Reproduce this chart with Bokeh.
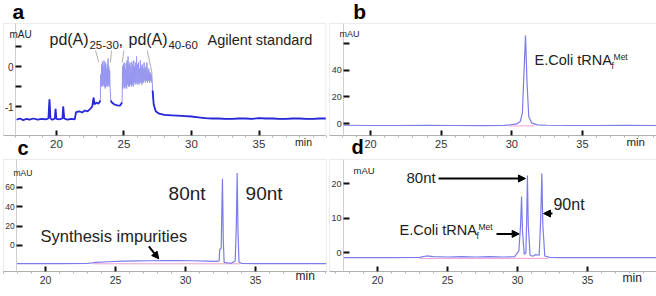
import numpy as np
from bokeh.plotting import figure
from bokeh.layouts import gridplot
from bokeh.models import Label, Arrow, NormalHead, FixedTicker, LinearAxis, Range1d, BoxAnnotation
from bokeh.embed import file_html
from bokeh.resources import INLINE

FONT = "Liberation Sans"

# ---------------- data ----------------
x_ticks = [20, 25, 30, 35]
x_minor_ticks = [17, 18, 19, 21, 22, 23, 24, 26, 27, 28, 29, 31, 32, 33, 34, 36, 37, 38, 39, 40]

# panel a: Agilent pd(A) standard (mAU vs min)
a_time = [17.05, 17.3, 17.5, 17.8, 18.0, 18.3, 18.6, 18.9, 19.2, 19.4, 19.48, 19.55, 19.7, 19.88,
          19.93, 19.99, 20.2, 20.44, 20.5, 20.57, 20.8, 21.1, 21.35, 21.45, 21.7, 21.9, 22.1, 22.3,
          22.5, 22.65, 22.75, 22.82, 22.95, 23.1, 23.2,
          23.25, 23.28, 23.31, 23.34, 23.37, 23.40, 23.43, 23.46, 23.49, 23.52, 23.55, 23.58, 23.61,
          23.64, 23.67, 23.70, 23.73, 23.76, 23.79, 23.82, 23.85, 23.88, 23.91, 23.94, 23.97, 24.02,
          24.1, 24.3, 24.5, 24.7, 24.82,
          24.86, 24.89, 24.92, 24.95, 24.99, 25.02, 25.06, 25.09, 25.13, 25.16, 25.20, 25.23, 25.27,
          25.30, 25.34, 25.37, 25.41, 25.44, 25.48, 25.51, 25.55, 25.58, 25.62, 25.65, 25.69, 25.72,
          25.76, 25.79, 25.83, 25.86, 25.90, 25.93, 25.97, 26.00, 26.04, 26.07, 26.11, 26.14, 26.18,
          26.21, 26.25, 26.28, 26.32, 26.35, 26.39, 26.42, 26.46, 26.49, 26.53, 26.56, 26.60, 26.63,
          26.67, 26.70, 26.74, 26.77, 26.81, 26.84, 26.88, 26.91, 26.95, 26.98, 27.02, 27.05, 27.09,
          27.12,
          27.2, 27.35, 27.6, 28.0, 28.5, 29.0, 29.5, 30.0, 30.5, 31.0, 31.5, 32.0, 32.5, 33.0, 33.5,
          34.0, 34.5, 35.0, 35.5, 36.0, 36.5, 37.0, 37.5, 38.0, 38.5, 39.0, 39.5, 39.95]
a_mau = [-1.33, -1.30, -1.34, -1.31, -1.33, -1.30, -1.33, -1.31, -1.32, -1.30, -0.82, -1.30, -1.33, -1.30,
         -1.06, -1.31, -1.32, -1.30, -1.00, -1.30, -1.33, -1.31, -1.32, -1.14, -1.12, -1.15, -1.10, -1.12,
         -1.06, -1.00, -0.78, -0.95, -0.90, -0.93, -0.88,
         -0.85, -0.20, -0.50, 0.05, -0.45, 0.12, -0.50, 0.00, -0.45, 0.15, -0.50, 0.05, -0.55,
         0.10, -0.45, -0.05, -0.50, 0.05, -0.50, 0.20, -0.45, 0.00, -0.50, -0.10, -0.55, -0.85,
         -0.90, -0.95, -0.97, -0.98, -0.92,
         -0.90, 0.00, -0.55, 0.05, -0.50, 0.10, -0.55, -0.05, -0.50, 0.08, -0.55, 0.15, -0.45,
         0.25, -0.50, 0.05, -0.50, 0.10, -0.45, 0.00, -0.50, 0.12, -0.45, 0.05, -0.50, 0.15,
         -0.40, 0.00, -0.45, 0.10, -0.40, 0.25, -0.45, 0.05, -0.40, 0.10, -0.45, -0.05, -0.40,
         0.15, -0.40, 0.00, -0.45, 0.05, -0.40, -0.05, -0.40, 0.10, -0.35, -0.05, -0.40, 0.00,
         -0.35, 0.10, -0.40, -0.10, -0.35, -0.05, -0.40, -0.15, -0.35, -0.15, -0.40, -0.20, -0.35,
         -0.60,
         -0.95, -1.12, -1.18, -1.21, -1.22, -1.23, -1.24, -1.25, -1.27, -1.29, -1.30, -1.30, -1.31, -1.31, -1.30,
         -1.30, -1.31, -1.29, -1.30, -1.30, -1.31, -1.31, -1.30, -1.30, -1.31, -1.31, -1.30, -1.30]
a_ladders = [(23.25, 24.02), (24.86, 27.12)]   # time windows of the dense pd(A) ladders
a_y_ticks = [-1, -0.5, 0, 0.5]
a_y_labels = {-1: "-1", -0.5: "", 0: "0", 0.5: ""}

# panel b: E.Coli tRNAfMet
b_time = [18.1, 20, 22, 24, 26, 28, 29.5, 30.3, 30.6, 30.75, 30.85, 30.97, 31.08, 31.2, 31.4, 31.8,
          32.5, 34, 36, 38, 40.24]
b_mau = [-1.3, -1.5, -1.5, -1.4, -1.5, -1.6, -1.4, -0.5, 1.5, 8, 35, 66, 30, 5, 0.5, -1,
         -1.3, -1.5, -1.5, -1.4, -1.5]
b_base_time = [29.8, 31.6]
b_base_mau = [-1.9, -1.7]
b_y_ticks = [0, 20, 40, 60]
b_y_labels = {0: "0", 20: "20", 40: "40", 60: ""}

# panel c: 80nt / 90nt synthetic oligos
c_time = [17.9, 19, 21, 23, 23.6, 24.5, 25.5, 26.5, 27.5, 28.5, 29.5, 30.5, 31.5, 32.2, 32.4, 32.45,
          32.55, 32.6, 32.64, 32.7, 32.76, 33.0, 33.3, 33.55, 33.63, 33.69, 33.75, 33.82, 34.0, 35,
          37, 39, 40.05]
c_mau = [-18.8, -18.8, -18.7, -18.6, -17.5, -16.8, -16.2, -16.0, -15.8, -15.5, -15.6, -15.8, -16.2,
         -16.5, -16.0, -4.0, -3.0, 40, 69, 5, -17.5, -18.0, -18.2, -16.0, 20, 75, 15, -17.0, -18.6,
         -18.7, -18.8, -18.8, -18.8]
c_base_time = [23.4, 33.9]
c_base_mau = [-18.9, -18.9]
c_y_ticks = [0, 20, 40, 60]

# panel d: mixture
d_time = [17.6, 19, 21, 23, 23.5, 24, 25, 26, 27, 28, 29, 29.8, 30.1, 30.22, 30.29, 30.36, 30.48,
          30.6, 30.66, 30.71, 30.77, 30.9, 31.1, 31.3, 31.55, 31.66, 31.74, 31.81, 31.95, 32.3, 33,
          35, 37, 39.93]
d_mau = [-1.5, -1.5, -1.5, -1.4, -1.0, -1.2, -1.3, -1.2, -1.3, -1.2, -1.3, -1.2, 0.5, 8, 16.2, 6,
         -0.5, 0, 10, 22.3, 8, -0.8, -1.1, -0.6, -0.8, 10, 22.9, 8, -1.0, -1.4, -1.5, -1.5, -1.5, -1.5]
d_base_time = [23.0, 32.2]
d_base_mau = [-1.7, -1.7]
d_y_ticks = [0, 10, 20]

# ---------------- styling helpers ----------------
TRACE = "#7b7bec"
PINK = "#f2a2d6"
FRAME = "#bdbdbd"


def panel(width, height, xr, yr, box, yaxis_at, yticks, ylabels, ylab_size, xlab_size):
    """xr/yr: range of the whole canvas; box = (left, right, bottom, top) of the framed chart."""
    left, right, bottom, top = box
    p = figure(width=width, height=height, x_range=Range1d(*xr), y_range=Range1d(*yr),
               output_backend="svg", toolbar_location=None,
               x_axis_location=None, y_axis_location=None, min_border=0)
    p.outline_line_color = None
    p.grid.visible = False
    p.background_fill_color = "white"
    p.border_fill_color = "white"
    p.add_layout(BoxAnnotation(left=left, right=right, bottom=bottom, top=top,
                               fill_color=None, line_color=FRAME, line_width=1))
    xa = LinearAxis(fixed_location=bottom, bounds=(left, right),
                    ticker=FixedTicker(ticks=x_ticks, minor_ticks=x_minor_ticks))
    xa.axis_line_color = "#a9a9a9"
    xa.major_tick_in = 5
    xa.major_tick_out = 0
    xa.major_tick_line_width = 2
    xa.major_tick_line_color = "#111111"
    xa.minor_tick_in = 0
    xa.minor_tick_out = 2
    xa.minor_tick_line_color = "#b5b5b5"
    xa.major_label_standoff = 2
    xa.major_label_text_font = FONT
    xa.major_label_text_font_size = xlab_size
    xa.major_label_text_color = "#333333"
    p.add_layout(xa, "below")
    ya = LinearAxis(fixed_location=yaxis_at, bounds=(bottom, top),
                    ticker=FixedTicker(ticks=yticks, minor_ticks=[]))
    if ylabels is not None:
        ya.major_label_overrides = ylabels
    ya.axis_line_color = "#cfcfcf"
    ya.major_tick_in = 6
    ya.major_tick_out = 0
    ya.major_tick_line_width = 2
    ya.major_tick_line_color = "#111111"
    ya.minor_tick_in = 0
    ya.minor_tick_out = 0
    ya.major_label_standoff = 2
    ya.major_label_text_font = FONT
    ya.major_label_text_font_size = ylab_size
    ya.major_label_text_color = "#333333"
    p.add_layout(ya, "left")
    return p


def txt(p, x, y, s, size, xo=0, yo=0, bold=False, color="#222222"):
    """Text whose baseline sits at data (x, y); anchored on the middle of its em box."""
    px = float(size.replace("px", ""))
    p.add_layout(Label(x=x, y=y, text=s, x_offset=xo, y_offset=yo + 0.3465 * px,
                       text_font=FONT, text_font_size=size,
                       text_font_style="bold" if bold else "normal",
                       text_color=color, text_baseline="middle", text_align="left"))


def arrow(p, x0, y0, x1, y1):
    p.add_layout(Arrow(end=NormalHead(size=7, line_color="black", fill_color="black", line_width=1),
                       x_start=x0, y_start=y0, x_end=x1, y_end=y1,
                       line_color="black", line_width=2))


ROW1_H, ROW2_H = 158, 129
COL_W = 328

# ---------------- panel a ----------------
pa = panel(COL_W, ROW1_H, (15.852, 40.148), (-2.3, 1.65), (16.07, 39.96, -1.725, 1.075),
           16.97, a_y_ticks, a_y_labels, "10px", "11.5px")
t = np.array(a_time)
v = np.array(a_mau, dtype=float)
in_ladder = np.zeros(len(t), dtype=bool)
for lo, hi in a_ladders:
    in_ladder |= (t > lo) & (t < hi)
pa.line(t, v, line_color="#9797ef", line_width=1)
pa.line(t, np.where(in_ladder, np.nan, v), line_color="#2828d8", line_width=1.8)
pa.segment(x0=[22.89, 24.07, 24.99, 26.72], y0=[0.4, 0.4, 0.4, 0.4],
           x1=[23.13, 24.0, 24.87, 27.09], y1=[0.11, 0.1, 0.1, -0.18],
           line_color="#9a9a9a", line_width=0.8)
txt(pa, 16.52, 0.725, "mAU", "10px")
txt(pa, 19.48, 0.525, "pd(A)", "16px")
txt(pa, 19.48, 0.525, "25-30", "11.5px", xo=40, yo=-3)
txt(pa, 19.48, 0.525, ",", "16px", xo=69)
txt(pa, 19.48, 0.525, "pd(A)", "16px", xo=79)
txt(pa, 19.48, 0.525, "40-60", "11.5px", xo=119, yo=-3)
txt(pa, 19.48, 0.525, "Agilent standard", "14.5px", xo=158)
txt(pa, 37.67, -1.975, "min", "10.5px")
txt(pa, 16.74, 1.19, "a", "21px", bold=True, color="black")
txt(pa, 17.11, -2.2, "c", "20px", bold=True, color="black")

# ---------------- panel b ----------------
pb = panel(COL_W, ROW1_H, (17.028, 40.24), (-26.25, 92.25), (17.098, 40.24, -9, 75),
           18.1, b_y_ticks, b_y_labels, "9px", "11px")
pb.line(b_base_time, b_base_mau, line_color=PINK, line_width=1)
pb.line(b_time, b_mau, line_color=TRACE, line_width=1.2)
txt(pb, 17.8, 64.5, "mAU", "9px")
txt(pb, 31.61, 43.5, "E.Coli tRNA", "14.5px")
txt(pb, 31.61, 43.5, "f", "8.5px", xo=77, yo=-3)
txt(pb, 31.61, 43.5, "Met", "8.5px", xo=79, yo=6)
txt(pb, 38.11, -17.0, "min", "11.5px")
txt(pb, 18.78, 78.5, "b", "21px", bold=True, color="black")
txt(pb, 18.66, -23.0, "d", "20px", bold=True, color="black")

# ---------------- panel c ----------------
pc = panel(COL_W, ROW2_H, (16.786, 40.214), (-43.45, 90.0), (17.0, 40.07, -26.9, 88.97),
           17.95, c_y_ticks, None, "8.5px", "10.5px")
pc.line(c_base_time, c_base_mau, line_color=PINK, line_width=1)
pc.line(c_time, c_mau, line_color=TRACE, line_width=1.2)
txt(pc, 17.71, 72.4, "mAU", "8.5px")
txt(pc, 28.79, 47.3, "80nt", "19px")
txt(pc, 34.29, 47.3, "90nt", "19px")
txt(pc, 19.64, 4.1, "Synthesis impurities", "16.5px")
arrow(pc, 27.38, -1.0, 28.09, -13.8)
txt(pc, 37.86, -35.5, "min", "12px")

# ---------------- panel d ----------------
pd_ = panel(COL_W, ROW2_H, (16.5, 39.93), (-10.14, 27.25), (16.571, 39.93, -5.51, 26.96),
            17.57, d_y_ticks, None, "9px", "10.5px")
pd_.line(d_base_time, d_base_mau, line_color=PINK, line_width=1)
pd_.line(d_time, d_mau, line_color=TRACE, line_width=1.2)
txt(pd_, 18.29, 22.8, "mAU", "9.5px")
txt(pd_, 22.07, 20.1, "80nt", "15px")
arrow(pd_, 24.36, 21.45, 30.57, 21.45)
txt(pd_, 32.57, 12.4, "90nt", "16px")
arrow(pd_, 32.5, 11.3, 31.86, 11.3)
txt(pd_, 21.57, 4.93, "E.Coli tRNA", "14.5px")
txt(pd_, 21.57, 4.93, "f", "8.5px", xo=77, yo=-3)
txt(pd_, 21.57, 4.93, "Met", "8.5px", xo=79, yo=6)
arrow(pd_, 28.5, 5.4, 30.12, 5.4)
txt(pd_, 37.5, -8.6, "min", "12px")

grid = gridplot([[pa, pb], [pc, pd_]], toolbar_location=None)

open("out.html", "w").write(file_html(grid, INLINE))
